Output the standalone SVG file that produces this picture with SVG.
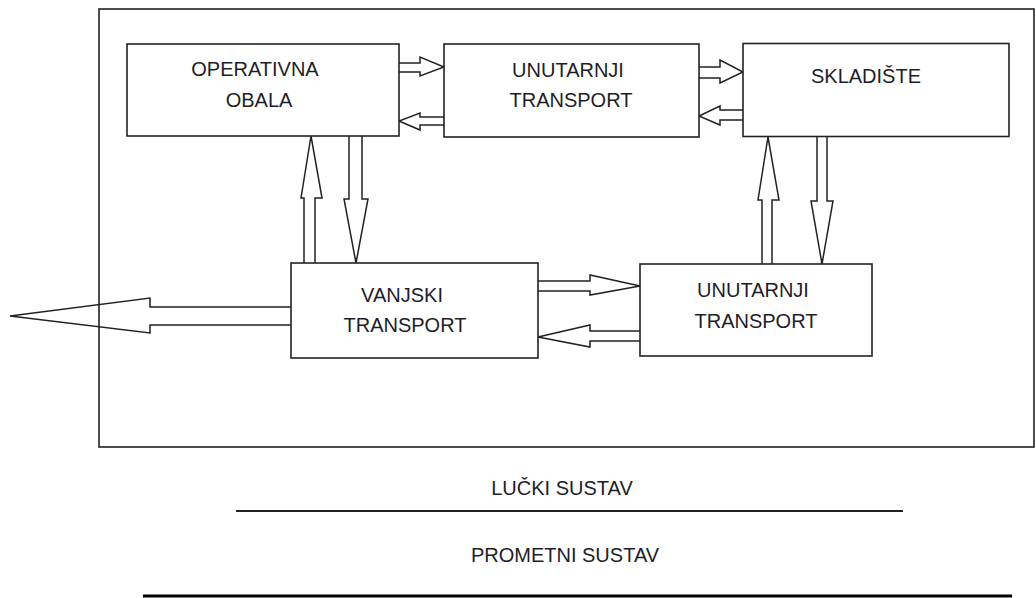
<svg xmlns="http://www.w3.org/2000/svg" width="1036" height="598" viewBox="0 0 1036 598">
<style>
.box{fill:#fff;stroke:#222;stroke-width:1.6}
.frame{fill:none;stroke:#222;stroke-width:1.6}
.arr{fill:#fff;stroke:#222;stroke-width:1.5;stroke-linejoin:miter}
.t{font-family:"Liberation Sans",Arial,sans-serif;font-size:20px;fill:#1e1e28;text-anchor:middle}
</style>
<rect width="1036" height="598" fill="#fff"/>
<g id="connectors">
<path class="arr" d="M291,307 H150 V298 L10,316 L150,333 V325 H291"/>
<path class="arr" d="M399,63 H420 V57 L444,67 L420,76 V72 H399"/>
<path class="arr" d="M444,117 H420 V113 L399,121 L420,130 V125 H444"/>
<path class="arr" d="M699,67 H720 V60 L743,72 L720,83 V78 H699"/>
<path class="arr" d="M743,110 H720 V106 L699,116 L720,125 V120 H743"/>
<path class="arr" d="M304,263 V198 H301 L311,136 L322,198 H315 V263"/>
<path class="arr" d="M349,136 V199 H344 L356,263 L368,199 H362 V136"/>
<path class="arr" d="M762,264 V200 H758 L768,137 L779,200 H772 V264"/>
<path class="arr" d="M817,137 V201 H811 L822,264 L833,201 H827 V137"/>
<path class="arr" d="M538,281 H590 V275 L640,286 L590,295 V291 H538"/>
<path class="arr" d="M640,331 H590 V325 L538,337 L590,347 V341 H640"/>
</g>
<g id="frame">
<rect class="frame" x="99" y="9" width="935" height="438"/>
</g>
<g id="operativna-obala">
<rect class="box" x="127" y="44" width="272" height="92"/>
<text class="t" x="255" y="76">OPERATIVNA</text>
<text class="t" x="259" y="107">OBALA</text>
</g>
<g id="unutarnji-transport-1">
<rect class="box" x="444" y="44" width="255" height="93"/>
<text class="t" x="568" y="77">UNUTARNJI</text>
<text class="t" x="571" y="107">TRANSPORT</text>
</g>
<g id="skladiste">
<rect class="box" x="743" y="43.5" width="266" height="93"/>
<text class="t" x="866" y="83">SKLADIŠTE</text>
</g>
<g id="vanjski-transport">
<rect class="box" x="291" y="263" width="247" height="95"/>
<text class="t" x="402" y="302">VANJSKI</text>
<text class="t" x="405" y="332">TRANSPORT</text>
</g>
<g id="unutarnji-transport-2">
<rect class="box" x="640" y="264" width="232" height="92"/>
<text class="t" x="753" y="297">UNUTARNJI</text>
<text class="t" x="756" y="328">TRANSPORT</text>
</g>
<g id="lucki-sustav">
<text class="t" x="562" y="495">LUČKI SUSTAV</text>
<line x1="236" y1="511" x2="903" y2="511" stroke="#222" stroke-width="1.8"/>
</g>
<g id="prometni-sustav">
<text class="t" x="565" y="562">PROMETNI SUSTAV</text>
<line x1="143" y1="596" x2="1012" y2="596" stroke="#000" stroke-width="3"/>
</g>
</svg>
